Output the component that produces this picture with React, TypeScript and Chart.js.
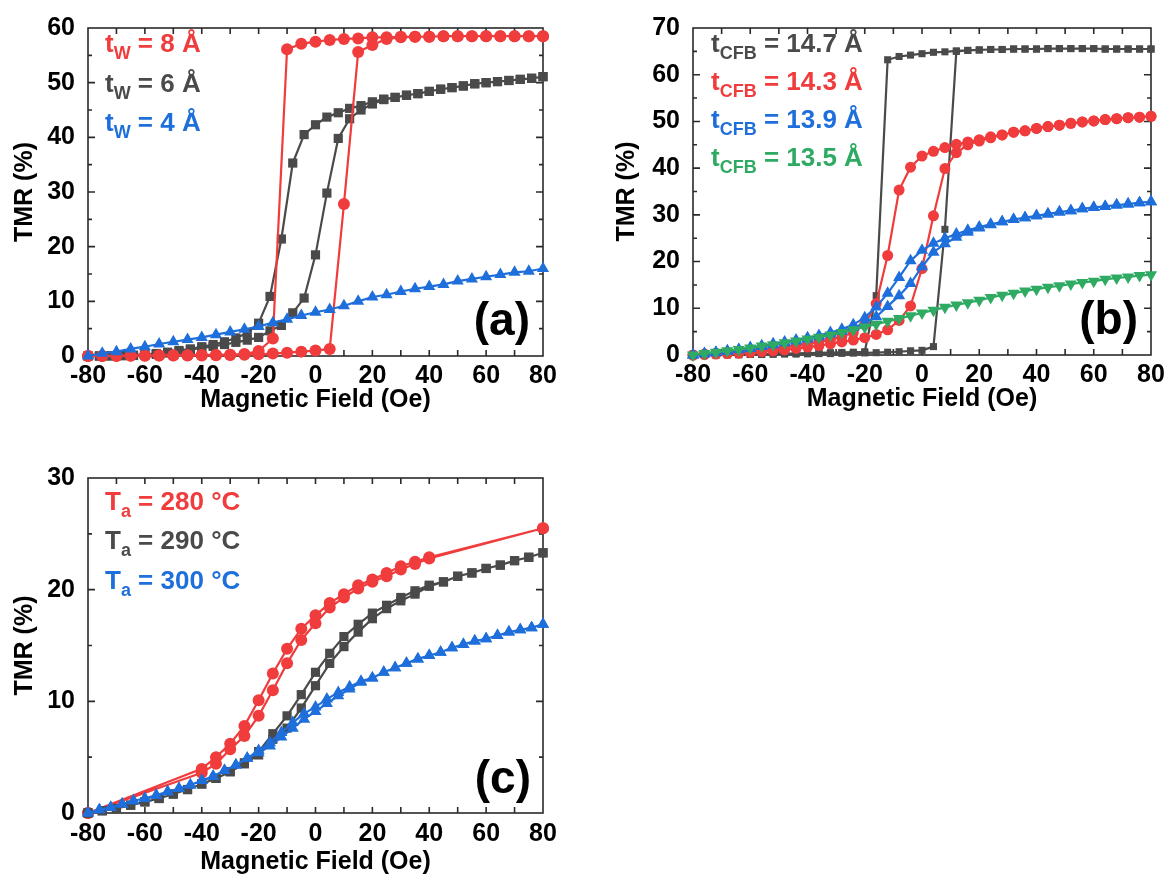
import React, { useEffect, useRef } from 'react';
import { Chart, registerables } from 'chart.js';

Chart.register(...registerables);

const FONT = '"Liberation Sans", Arial, sans-serif';
const RED = '#F03C3C';
const GRAY = '#4A4A4A';
const BLUE = '#1E6FDB';
const GREEN = '#2EAA62';

// Field sweeps (Oe)
const FIELD_5 = [-80, -75, -70, -65, -60, -55, -50, -45, -40, -35, -30, -25, -20, -15, -10, -5, 0, 5, 10, 15, 20, 25, 30, 35, 40, 45, 50, 55, 60, 65, 70, 75, 80];
const FIELD_4 = [-80, -76, -72, -68, -64, -60, -56, -52, -48, -44, -40, -36, -32, -28, -24, -20, -16, -12, -8, -4, 0, 4, 8, 12, 16, 20, 24, 28, 32, 36, 40, 44, 48, 52, 56, 60, 64, 68, 72, 76, 80];
const FIELD_C_RED = [-80, -40, -35, -30, -25, -20, -15, -10, -5, 0, 5, 10, 15, 20, 25, 30, 35, 40, 80];

// Panel (a): tW = 8 Å (red, FIELD_5), 6 Å (gray, FIELD_4), 4 Å (blue, FIELD_5)
const A_RED_UP = [0, 0, 0, 0.05, 0.05, 0.1, 0.1, 0.1, 0.1, 0.15, 0.2, 0.25, 0.3, 0.45, 0.6, 0.8, 1.0, 1.3, 27.8, 55.6, 56.9, 58.0, 58.3, 58.4, 58.4, 58.5, 58.5, 58.5, 58.5, 58.5, 58.5, 58.5, 58.5];
const A_RED_DOWN = [0, 0, 0.05, 0.1, 0.1, 0.1, 0.15, 0.15, 0.2, 0.2, 0.25, 0.35, 0.9, 3.2, 56.1, 57.1, 57.5, 57.8, 58.0, 58.1, 58.3, 58.3, 58.4, 58.4, 58.4, 58.5, 58.5, 58.5, 58.5, 58.5, 58.5, 58.5, 58.5];
const A_GRAY_UP = [0, 0, 0, 0.05, 0.1, 0.15, 0.3, 0.55, 0.85, 1.15, 1.5, 1.75, 2.1, 2.5, 2.9, 3.4, 4.6, 5.6, 7.9, 10.6, 18.5, 29.8, 39.8, 43.4, 45.0, 46.1, 46.9, 47.3, 47.7, 48.0, 48.4, 48.8, 49.1, 49.4, 49.8, 50.0, 50.2, 50.4, 50.6, 50.8, 51.1];
const A_GRAY_DOWN = [0, 0, 0.05, 0.1, 0.15, 0.3, 0.45, 0.7, 1.0, 1.3, 1.7, 2.1, 2.6, 3.3, 4.2, 6.0, 10.9, 21.4, 35.3, 40.5, 42.3, 43.7, 44.5, 45.3, 45.8, 46.5, 47.0, 47.3, 47.7, 48.0, 48.4, 48.8, 49.1, 49.4, 49.8, 50.0, 50.2, 50.4, 50.6, 50.8, 51.1];
const A_BLUE = [0, 0.5, 0.8, 1.3, 1.7, 2.2, 2.6, 3.0, 3.4, 3.9, 4.4, 4.9, 5.4, 6.1, 6.7, 7.4, 8.0, 8.5, 9.2, 10.0, 10.8, 11.2, 11.8, 12.3, 12.7, 13.1, 13.7, 14.1, 14.5, 14.9, 15.3, 15.5, 16.0];

// Panel (b): tCFB = 14.7 / 14.3 / 13.9 / 13.5 Å (FIELD_4)
const B_GRAY_UP = [0, 0, 0, 0, 0.05, 0.1, 0.1, 0.15, 0.2, 0.2, 0.25, 0.3, 0.3, 0.35, 0.4, 0.45, 0.5, 0.6, 0.7, 0.9, 1.0, 1.8, 26.9, 65.0, 65.2, 65.3, 65.4, 65.4, 65.5, 65.5, 65.5, 65.6, 65.6, 65.6, 65.6, 65.6, 65.5, 65.5, 65.5, 65.5, 65.5];
const B_GRAY_DOWN = [0, 0, 0.05, 0.1, 0.1, 0.15, 0.2, 0.25, 0.3, 0.35, 0.4, 0.45, 0.5, 0.55, 0.6, 0.7, 12.7, 63.2, 63.9, 64.2, 64.5, 64.8, 64.9, 65.1, 65.2, 65.3, 65.4, 65.4, 65.5, 65.5, 65.5, 65.6, 65.6, 65.6, 65.6, 65.6, 65.5, 65.5, 65.5, 65.5, 65.5];
const B_RED_UP = [0, 0.1, 0.2, 0.3, 0.4, 0.55, 0.7, 0.9, 1.1, 1.4, 1.7, 2.0, 2.4, 2.8, 3.2, 3.7, 4.4, 5.4, 7.4, 10.5, 18.5, 29.8, 39.9, 43.3, 45.0, 45.8, 46.5, 47.1, 47.7, 48.0, 48.5, 48.9, 49.2, 49.6, 49.9, 50.1, 50.4, 50.6, 50.8, 50.9, 51.1];
const B_RED_DOWN = [0, 0.2, 0.35, 0.5, 0.7, 0.9, 1.1, 1.4, 1.7, 2.0, 2.4, 2.8, 3.3, 3.9, 4.8, 6.5, 11.0, 21.3, 35.3, 40.2, 42.6, 43.6, 44.4, 45.1, 45.6, 46.1, 46.7, 47.1, 47.7, 48.0, 48.5, 48.9, 49.2, 49.6, 49.9, 50.1, 50.4, 50.6, 50.8, 50.9, 51.1];
const B_BLUE_UP = [0, 0.2, 0.5, 0.8, 1.1, 1.4, 1.8, 2.2, 2.6, 3.0, 3.4, 3.9, 4.5, 5.1, 5.9, 6.8, 8.2, 10.4, 12.7, 15.3, 18.9, 22.0, 23.8, 25.2, 26.3, 27.2, 27.9, 28.5, 29.0, 29.4, 29.8, 30.2, 30.6, 30.9, 31.3, 31.6, 31.8, 32.1, 32.3, 32.6, 32.8];
const B_BLUE_DOWN = [0, 0.3, 0.6, 0.9, 1.2, 1.6, 2.0, 2.4, 2.8, 3.2, 3.7, 4.2, 4.8, 5.5, 6.5, 8.0, 10.3, 13.2, 16.6, 20.2, 22.4, 23.9, 25.0, 25.9, 26.7, 27.4, 28.0, 28.5, 29.0, 29.4, 29.8, 30.2, 30.6, 30.9, 31.3, 31.6, 31.8, 32.1, 32.3, 32.6, 32.8];
const B_GREEN = [0, 0.3, 0.6, 0.9, 1.2, 1.5, 1.9, 2.2, 2.6, 3.0, 3.4, 3.8, 4.3, 4.8, 5.4, 6.0, 6.6, 7.2, 7.8, 8.4, 9.0, 9.6, 10.2, 10.7, 11.2, 11.7, 12.3, 12.8, 13.2, 13.7, 14.1, 14.5, 14.8, 15.2, 15.5, 15.8, 16.2, 16.5, 16.7, 17.0, 17.2];

// Panel (c): Ta = 280 °C (red, FIELD_C_RED), 290 °C (gray, FIELD_5), 300 °C (blue, FIELD_4)
const C_RED_UP = [0, 3.6, 4.4, 5.7, 6.9, 8.7, 11.0, 13.4, 15.5, 17.0, 18.4, 19.3, 20.1, 20.7, 21.2, 21.8, 22.3, 22.8, 25.5];
const C_RED_DOWN = [0, 3.95, 5.0, 6.2, 7.8, 10.1, 12.5, 14.7, 16.5, 17.7, 18.8, 19.6, 20.4, 20.9, 21.5, 22.1, 22.5, 22.9, 25.5];
const C_GRAY_UP = [0, 0.2, 0.4, 0.7, 1.0, 1.3, 1.7, 2.1, 2.6, 3.1, 3.7, 4.4, 5.2, 6.6, 7.6, 9.4, 11.4, 13.4, 14.9, 16.2, 17.4, 18.3, 19.0, 19.6, 20.3, 20.7, 21.2, 21.5, 21.9, 22.2, 22.6, 22.9, 23.3];
const C_GRAY_DOWN = [0, 0.2, 0.4, 0.7, 1.0, 1.3, 1.7, 2.1, 2.6, 3.1, 3.7, 4.5, 5.5, 7.1, 8.7, 10.6, 12.6, 14.3, 15.8, 16.9, 17.9, 18.6, 19.3, 19.9, 20.4, 20.7, 21.2, 21.5, 21.9, 22.2, 22.6, 22.9, 23.3];
const C_BLUE_UP = [0, 0.3, 0.5, 0.8, 1.1, 1.3, 1.6, 1.9, 2.2, 2.5, 2.9, 3.3, 3.8, 4.3, 4.9, 5.4, 6.0, 6.8, 7.6, 8.4, 9.1, 9.8, 10.5, 11.1, 11.7, 12.1, 12.6, 13.0, 13.4, 13.8, 14.1, 14.4, 14.8, 15.1, 15.4, 15.6, 15.9, 16.2, 16.4, 16.6, 16.9];
const C_BLUE_DOWN = [0, 0.3, 0.5, 0.8, 1.1, 1.3, 1.6, 1.9, 2.2, 2.5, 2.9, 3.3, 3.8, 4.3, 4.9, 5.6, 6.3, 7.2, 8.1, 8.9, 9.5, 10.2, 10.8, 11.3, 11.8, 12.1, 12.6, 13.0, 13.4, 13.8, 14.1, 14.4, 14.8, 15.1, 15.4, 15.6, 15.9, 16.2, 16.4, 16.6, 16.9];

const X_TITLE = 'Magnetic Field (Oe)';
const Y_TITLE = 'TMR (%)';
const LEGEND_A = [
  { main: 't', sub: 'W', rest: ' = 8 Å', color: RED },
  { main: 't', sub: 'W', rest: ' = 6 Å', color: GRAY },
  { main: 't', sub: 'W', rest: ' = 4 Å', color: BLUE },
];
const LEGEND_B = [
  { main: 't', sub: 'CFB', rest: ' = 14.7 Å', color: GRAY },
  { main: 't', sub: 'CFB', rest: ' = 14.3 Å', color: RED },
  { main: 't', sub: 'CFB', rest: ' = 13.9 Å', color: BLUE },
  { main: 't', sub: 'CFB', rest: ' = 13.5 Å', color: GREEN },
];
const LEGEND_C = [
  { main: 'T', sub: 'a', rest: ' = 280 °C', color: RED },
  { main: 'T', sub: 'a', rest: ' = 290 °C', color: GRAY },
  { main: 'T', sub: 'a', rest: ' = 300 °C', color: BLUE },
];

type Pt = { x: number; y: number };
const pts = (xs: number[], ys: number[]): Pt[] => xs.map((v, i) => ({ x: v, y: ys[i] }));
const loop = (xs: number[], up: number[], down: number[]): Pt[] => [...pts(xs, up), ...pts(xs, down).reverse()];

type SeriesSpec = { data: Pt[]; color: string; style: string; radius: number; rotation?: number };
type LegendItem = { main: string; sub: string; rest: string; color: string };
type PanelSpec = {
  left: number; top: number; width: number; height: number;
  yMax: number;
  padTop: number; padRight: number; yAxisW: number; xAxisH: number;
  xTickPad: number; xTitlePad: number; yTickPad: number; yTitlePad: number;
  series: SeriesSpec[];
  legend: LegendItem[]; legendX: number; legendY: number[];
  letter: string; letterX: number; letterY: number;
};

const PANELS: PanelSpec[] = [
  {
    left: 0, top: 0, width: 585, height: 440, yMax: 60,
    padTop: 17, padRight: 42, yAxisW: 88, xAxisH: 84,
    xTickPad: 5, xTitlePad: 25, yTickPad: 13, yTitlePad: 10,
    series: [
      { data: pts(FIELD_5, A_BLUE), color: BLUE, style: 'triangle', radius: 7 },
      { data: loop(FIELD_5, A_RED_UP, A_RED_DOWN), color: RED, style: 'circle', radius: 6 },
      { data: loop(FIELD_4, A_GRAY_UP, A_GRAY_DOWN), color: GRAY, style: 'rect', radius: 6.5 },
    ],
    legend: LEGEND_A, legendX: 105, legendY: [52, 92, 131],
    letter: '(a)', letterX: 530, letterY: 335,
  },
  {
    left: 590, top: 0, width: 580, height: 440, yMax: 70,
    padTop: 15, padRight: 19, yAxisW: 103, xAxisH: 85,
    xTickPad: 5, xTitlePad: 26, yTickPad: 13, yTitlePad: 22,
    series: [
      { data: pts(FIELD_4, B_GREEN), color: GREEN, style: 'triangle', radius: 7, rotation: 180 },
      { data: loop(FIELD_4, B_BLUE_UP, B_BLUE_DOWN), color: BLUE, style: 'triangle', radius: 7 },
      { data: loop(FIELD_4, B_RED_UP, B_RED_DOWN), color: RED, style: 'circle', radius: 5.5 },
      { data: loop(FIELD_4, B_GRAY_UP, B_GRAY_DOWN), color: GRAY, style: 'rect', radius: 5 },
    ],
    legend: LEGEND_B, legendX: 121, legendY: [52, 90, 128, 166],
    letter: '(b)', letterX: 548, letterY: 334,
  },
  {
    left: 0, top: 450, width: 585, height: 438, yMax: 30,
    padTop: 23, padRight: 42, yAxisW: 88, xAxisH: 75,
    xTickPad: 6, xTitlePad: 11, yTickPad: 13, yTitlePad: 10,
    series: [
      { data: loop(FIELD_4, C_BLUE_UP, C_BLUE_DOWN), color: BLUE, style: 'triangle', radius: 7 },
      { data: loop(FIELD_5, C_GRAY_UP, C_GRAY_DOWN), color: GRAY, style: 'rect', radius: 6.5 },
      { data: loop(FIELD_C_RED, C_RED_UP, C_RED_DOWN), color: RED, style: 'circle', radius: 6 },
    ],
    legend: LEGEND_C, legendX: 105, legendY: [60, 99, 139],
    letter: '(c)', letterX: 531, letterY: 343,
  },
];

function framePlugin(p: PanelSpec) {
  return {
    id: 'frame',
    beforeDatasetsDraw(chart: any) {
      const { ctx, chartArea } = chart;
      const { left, right, top, bottom } = chartArea;
      const xs = chart.scales.x;
      const ys = chart.scales.y;
      ctx.save();
      ctx.strokeStyle = '#2a2a2a';
      ctx.lineWidth = 1.6;
      ctx.beginPath();
      for (let v = -70; v <= 70; v += 10) {
        const px = xs.getPixelForValue(v);
        ctx.moveTo(px, bottom); ctx.lineTo(px, bottom - 6);
        ctx.moveTo(px, top); ctx.lineTo(px, top + 6);
      }
      for (let v = 5; v < p.yMax; v += 5) {
        const py = ys.getPixelForValue(v);
        const len = v % 10 === 0 ? 7 : 4;
        ctx.moveTo(left, py); ctx.lineTo(left + len, py);
        ctx.moveTo(right, py); ctx.lineTo(right - len, py);
      }
      ctx.stroke();
      ctx.strokeRect(left, top, right - left, bottom - top);
      ctx.restore();
    },
    afterDraw(chart: any) {
      const { ctx } = chart;
      ctx.save();
      ctx.textBaseline = 'alphabetic';
      ctx.textAlign = 'left';
      p.legend.forEach((it, i) => {
        let x = p.legendX;
        const y = p.legendY[i];
        ctx.fillStyle = it.color;
        ctx.font = `bold 26px ${FONT}`;
        ctx.fillText(it.main, x, y);
        x += ctx.measureText(it.main).width;
        ctx.font = `bold 18px ${FONT}`;
        ctx.fillText(it.sub, x, y + 7);
        x += ctx.measureText(it.sub).width;
        ctx.font = `bold 26px ${FONT}`;
        ctx.fillText(it.rest, x, y);
      });
      ctx.fillStyle = '#000';
      ctx.font = `bold 46px ${FONT}`;
      ctx.textAlign = 'right';
      ctx.fillText(p.letter, p.letterX, p.letterY);
      ctx.restore();
    },
  };
}

function makeConfig(p: PanelSpec): any {
  const tickFont = { family: FONT, size: 25, weight: 'bold' as const };
  return {
    type: 'scatter',
    data: {
      datasets: p.series.map((s) => ({
        data: s.data,
        showLine: true,
        borderColor: s.color,
        backgroundColor: s.color,
        borderWidth: 2.2,
        pointStyle: s.style,
        pointRadius: s.radius,
        pointRotation: s.rotation ?? 0,
        pointBackgroundColor: s.color,
        pointBorderColor: s.color,
        pointBorderWidth: 0,
        tension: 0,
        clip: false,
      })),
    },
    options: {
      animation: false,
      responsive: false,
      devicePixelRatio: 1,
      events: [],
      layout: { padding: { left: 0, top: p.padTop, right: p.padRight, bottom: 0 } },
      plugins: { legend: { display: false }, tooltip: { enabled: false } },
      scales: {
        x: {
          type: 'linear', min: -80, max: 80,
          grid: { display: false, drawTicks: false },
          border: { display: false },
          ticks: { stepSize: 20, font: tickFont, color: '#000', padding: p.xTickPad, maxRotation: 0 },
          title: { display: true, text: X_TITLE, font: tickFont, color: '#000', padding: { top: 0, bottom: p.xTitlePad } },
          afterFit: (s: any) => { s.height = p.xAxisH; },
        },
        y: {
          type: 'linear', min: 0, max: p.yMax,
          grid: { display: false, drawTicks: false },
          border: { display: false },
          ticks: { stepSize: 10, font: tickFont, color: '#000', padding: p.yTickPad },
          title: { display: true, text: Y_TITLE, font: tickFont, color: '#000', padding: { top: p.yTitlePad, bottom: 0 } },
          afterFit: (s: any) => { s.width = p.yAxisW; },
        },
      },
    },
    plugins: [framePlugin(p)],
  };
}

function Panel({ spec }: { spec: PanelSpec }) {
  const ref = useRef<HTMLCanvasElement | null>(null);
  useEffect(() => {
    if (!ref.current) return;
    const chart = new Chart(ref.current, makeConfig(spec));
    return () => chart.destroy();
  }, [spec]);
  return (
    <canvas
      ref={ref}
      width={spec.width}
      height={spec.height}
      style={{ position: 'absolute', left: spec.left, top: spec.top, width: spec.width, height: spec.height }}
    />
  );
}

export default function App() {
  return (
    <div style={{ position: 'absolute', left: 0, top: 0, width: 1170, height: 888, background: '#fff' }}>
      {PANELS.map((p, i) => (
        <Panel key={i} spec={p} />
      ))}
    </div>
  );
}
